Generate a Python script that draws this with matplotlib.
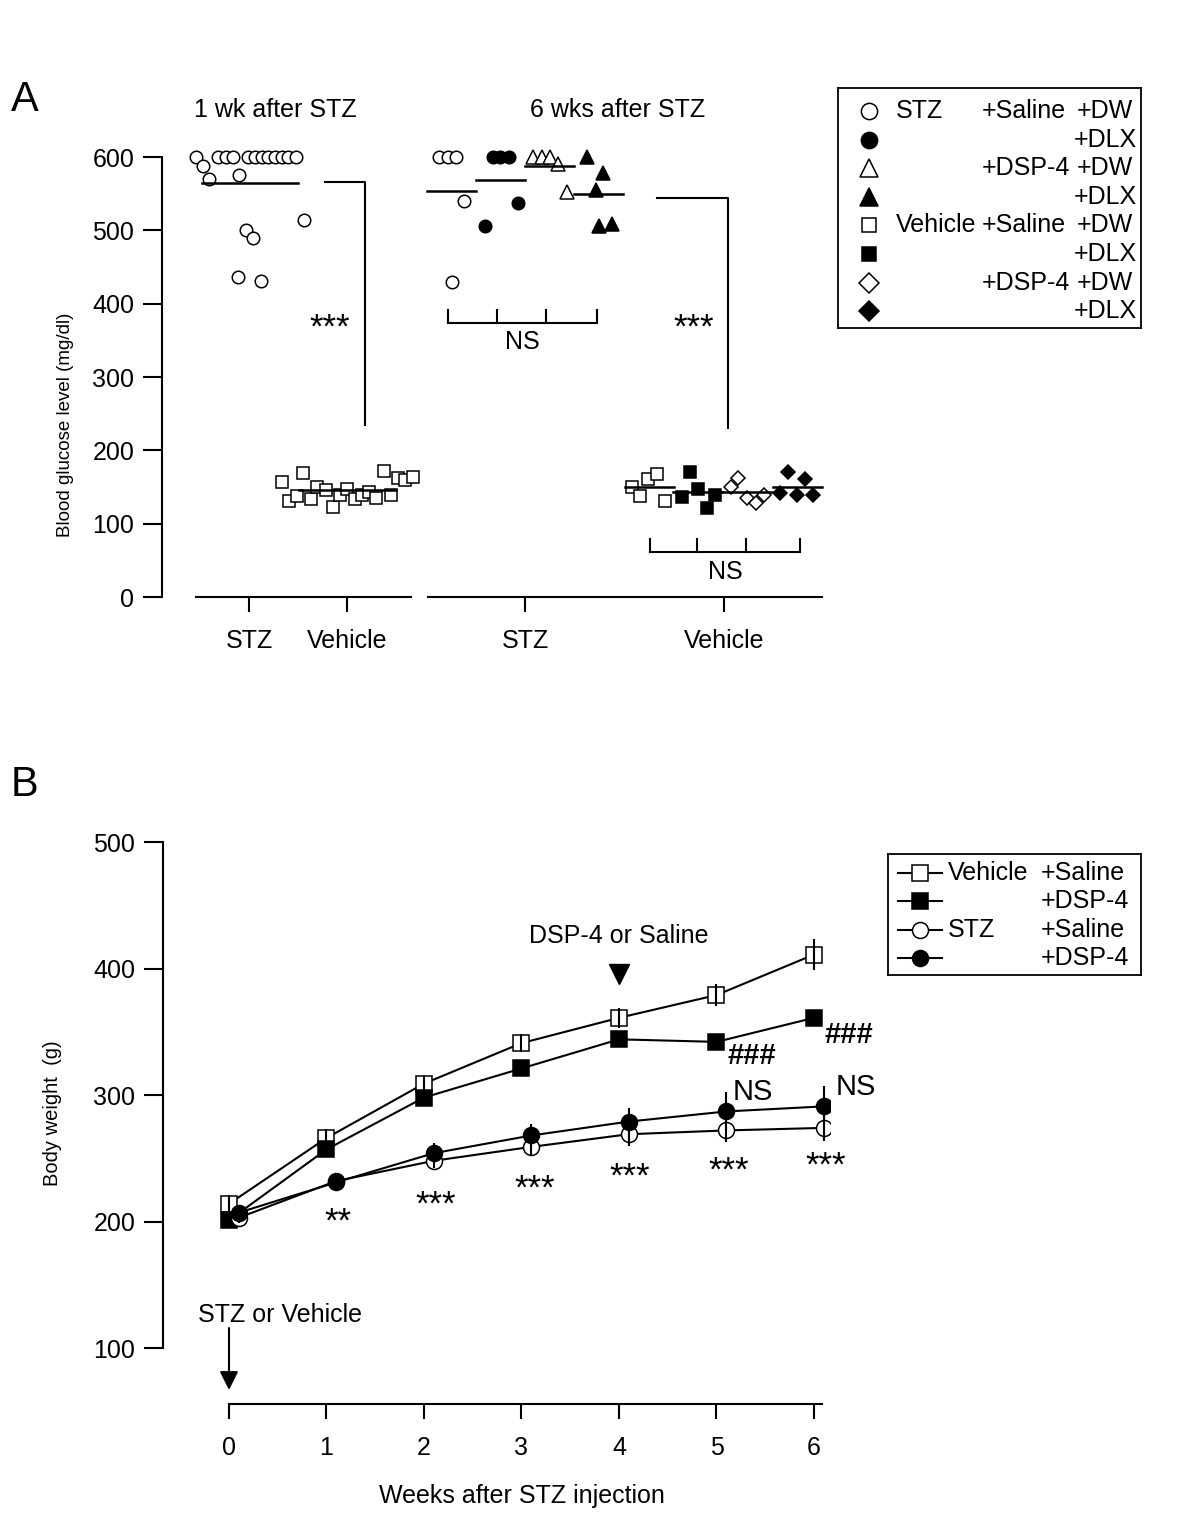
import matplotlib.pyplot as plt
import numpy as np

plt.rcParams['font.family'] = ['Liberation Sans', 'DejaVu Sans']
plt.rcParams['font.size'] = 18

# ---------------- panel A: blood glucose (mg/dl) ----------------
# 1 wk after STZ
stz_1wk = [600, 600, 600, 600, 600, 600, 600, 600, 600, 600, 600, 600,
           588, 570, 575, 500, 490, 514, 436, 431]
stz_1wk_jit = [-54, -32, -24, -17, -2, 5, 12, 18, 25, 32, 38, 46,
               -47, -41, -11, -4, 3, 54, -12, 11]
veh_1wk = [157, 169, 131, 138, 134, 150, 146, 123, 139, 147, 134, 139,
           143, 135, 172, 139, 162, 160, 164]
veh_1wk_jit = [-65, -44, -58, -50, -36, -30, -21, -14, -7, 0, 8, 15,
               22, 29, 37, 44, 51, 58, 66]

# 6 wks after STZ (4 subgroups each)
stz_sal_dw = [600, 600, 600, 540, 430]
stz_sal_dlx = [600, 600, 600, 537, 506]
stz_dsp_dw = [600, 600, 600, 590, 552]
stz_dsp_dlx = [600, 578, 555, 506, 508]
veh_sal_dw = [150, 138, 161, 168, 131]
veh_sal_dlx = [137, 170, 147, 121, 139]
veh_dsp_dw = [150, 162, 135, 128, 139]
veh_dsp_dlx = [142, 170, 139, 161, 139]

jit_stz = [[-13, -4, 4, 12, 0], [-8, -1, 8, 17, -16],
           [-17, -8, 0, 8, 17], [-12, 4, -3, 0, 13]]
jit_veh = [[-17, -9, -1, 8, 16], [-16, -8, 0, 9, 17],
           [-16, -9, 0, 9, 17], [-17, -9, 0, 8, 16]]

# ---------------- panel B: body weight (g) ----------------
weeks = [0, 1, 2, 3, 4, 5, 6]
bw_veh_sal = [214, 266, 309, 341, 361, 379, 411]
bw_veh_sal_err = [7, 7, 7, 7, 8, 9, 12]
bw_veh_dsp = [201, 257, 298, 321, 344, 342, 361]
bw_veh_dsp_err = [5, 5, 5, 5, 5, 5, 5]
bw_stz_sal = [203, 232, 248, 259, 269, 272, 274]
bw_stz_sal_err = [4, 4, 6, 7, 9, 9, 10]
bw_stz_dsp = [207, 231, 254, 268, 279, 287, 291]
bw_stz_dsp_err = [4, 4, 8, 9, 11, 15, 16]

fig = plt.figure(figsize=(12, 15.2), dpi=100)
W, H = 1200, 1520


def rect(x0, y0, x1, y1):
    return [x0 / W, 1 - y1 / H, (x1 - x0) / W, (y1 - y0) / H]


# ======================= panel A =======================
axA = fig.add_axes(rect(162, 80, 830, 660))
axA.set_xlim(162, 830)
axA.set_ylim(-85.9, 705.0)
for s in ['top', 'right']:
    axA.spines[s].set_visible(False)
axA.spines['left'].set_bounds(0, 600)
axA.spines['left'].set_linewidth(1.5)
axA.spines['bottom'].set_position(('data', 0))
axA.spines['bottom'].set_visible(False)
axA.set_yticks(range(0, 601, 100))
axA.tick_params(axis='y', direction='out', length=14, width=1.5, pad=6)
axA.set_xticks([249, 347, 525, 724])
axA.set_xticklabels(['STZ', 'Vehicle', 'STZ', 'Vehicle'])
axA.tick_params(axis='x', direction='out', length=11, width=1.5, pad=12)
axA.plot([196, 411], [0, 0], color='black', lw=1.5, clip_on=False)
axA.plot([428, 822], [0, 0], color='black', lw=1.5, clip_on=False)
axA.set_ylabel('Blood glucose level (mg/dl)', fontsize=13.5)
axA.yaxis.set_label_coords(-0.132, 0.405)

ms_A = {'o': 9, 's': 8, '^': 10, 'D': 7.6}


def dot_group(center, values, jit, marker, face, hw):
    xs = center + np.array(jit)
    axA.plot(xs, values, linestyle='none', marker=marker, ms=ms_A[marker],
             mfc=face, mec='black', mew=1.1, clip_on=False, zorder=3)
    m = np.mean(values)
    axA.plot([center - hw, center + hw], [m, m], color='black', lw=1.8, zorder=4)


dot_group(250, stz_1wk, stz_1wk_jit, 'o', 'white', 48)
dot_group(347, veh_1wk, veh_1wk_jit, 's', 'white', 48.5)

stz_groups = [stz_sal_dw, stz_sal_dlx, stz_dsp_dw, stz_dsp_dlx]
veh_groups = [veh_sal_dw, veh_sal_dlx, veh_dsp_dw, veh_dsp_dlx]
stz_centers = [451.5, 500.5, 549.5, 598.5]
veh_centers = [649, 697.5, 747, 797]
stz_style = [('o', 'white'), ('o', 'black'), ('^', 'white'), ('^', 'black')]
veh_style = [('s', 'white'), ('s', 'black'), ('D', 'white'), ('D', 'black')]
for c, v, j, (mk, fc) in zip(stz_centers, stz_groups, jit_stz, stz_style):
    dot_group(c, v, j, mk, fc, 24.5)
for c, v, j, (mk, fc) in zip(veh_centers, veh_groups, jit_veh, veh_style):
    dot_group(c, v, j, mk, fc, 24.5)

# significance brackets
axA.plot([325, 365, 365], [566, 566, 235], color='black', lw=1.5)
axA.plot([657, 728, 728], [544, 544, 230], color='black', lw=1.5)
axA.text(330, 354, '***', ha='center', va='baseline', fontsize=25)
axA.text(694, 354, '***', ha='center', va='baseline', fontsize=25)

# NS brackets
for ticks, ylo, yhi, ytxt in [([448, 497, 546, 597], 374, 391, 347.7),
                              ([650, 697, 746, 800], 61, 79, 34.1)]:
    axA.plot([ticks[0], ticks[-1]], [ylo, ylo], color='black', lw=1.5)
    for t in ticks:
        axA.plot([t, t], [ylo, yhi], color='black', lw=1.5)
    axA.text(np.mean([ticks[0], ticks[-1]]), ytxt, 'NS', ha='center', va='center')

axA.text(275, 664, '1 wk after STZ', ha='center', va='center')
axA.text(618, 664, '6 wks after STZ', ha='center', va='center')

# legend A
legA = fig.add_axes(rect(838, 88, 1141, 328))
legA.set_xlim(838, 1141)
legA.set_ylim(328, 88)
legA.set_xticks([])
legA.set_yticks([])
for s in legA.spines.values():
    s.set_linewidth(1.3)
rowsA = [('o', 'white', 'STZ', '+Saline', '+DW'),
         ('o', 'black', '', '', '+DLX'),
         ('^', 'white', '', '+DSP-4', '+DW'),
         ('^', 'black', '', '', '+DLX'),
         ('s', 'white', 'Vehicle', '+Saline', '+DW'),
         ('s', 'black', '', '', '+DLX'),
         ('D', 'white', '', '+DSP-4', '+DW'),
         ('D', 'black', '', '', '+DLX')]
for i, (mk, fc, t1, t2, t3) in enumerate(rowsA):
    y = 111 + i * 28.6
    legA.plot([869], [y], marker=mk, ms=ms_A[mk] * 1.3, mfc=fc, mec='black', mew=1.1)
    legA.text(896, y, t1, ha='left', va='center')
    legA.text(982, y, t2, ha='left', va='center')
    legA.text(1133 if t3 == '+DW' else 1137, y, t3, ha='right', va='center')

fig.text(25 / W, 1 - 100 / H, 'A', fontsize=30, ha='center', va='center')

# ======================= panel B =======================
axB = fig.add_axes(rect(163, 830, 830, 1410))
axB.set_xlim(-0.6769, 6.1641)
axB.set_ylim(50.99, 509.49)
for s in ['top', 'right']:
    axB.spines[s].set_visible(False)
axB.spines['left'].set_bounds(100, 500)
axB.spines['left'].set_linewidth(1.5)
axB.spines['bottom'].set_position(('data', 55.73))
axB.spines['bottom'].set_bounds(0, 6.08)
axB.spines['bottom'].set_linewidth(1.5)
axB.set_yticks([100, 200, 300, 400, 500])
axB.set_xticks(weeks)
axB.tick_params(axis='y', direction='out', length=14, width=1.5, pad=6)
axB.tick_params(axis='x', direction='out', length=11, width=1.5, pad=12)
axB.set_ylabel('Body weight  (g)', fontsize=14.5)
axB.yaxis.set_label_coords(-0.151, 0.512)
fig.text(522 / W, 1 - 1496 / H, 'Weeks after STZ injection', ha='center', va='center')

wk = np.array(weeks, dtype=float)
series = [(wk, bw_veh_sal, bw_veh_sal_err, 's', 'white'),
          (wk, bw_veh_dsp, bw_veh_dsp_err, 's', 'black'),
          (wk + 0.1, bw_stz_sal, bw_stz_sal_err, 'o', 'white'),
          (wk + 0.1, bw_stz_dsp, bw_stz_dsp_err, 'o', 'black')]
for x, y, e, mk, fc in series:
    axB.plot(x, y, color='black', lw=1.5, marker=mk, ms=11 if mk == 's' else 11.5,
             mfc=fc, mec='black', mew=1.1, zorder=3)
    axB.errorbar(x, y, yerr=e, fmt='none', ecolor='black', elinewidth=1.5,
                 capsize=0, zorder=4)

# annotations
stars = [(1.12, 191.7, '**'), (2.12, 205.1, '***'), (3.14, 217.8, '***'),
         (4.11, 227.3, '***'), (5.12, 232.0, '***'), (6.12, 236.0, '***')]
for x, y, t in stars:
    axB.text(x, y, t, ha='center', va='baseline', fontsize=25)
axB.text(5.11, 330.8, '###', ha='left', va='center', fontsize=21, fontweight='bold')
axB.text(6.11, 347.4, '###', ha='left', va='center', fontsize=21, fontweight='bold')
axB.text(5.17, 302.4, 'NS', ha='left', va='center', fontsize=21, clip_on=False)
axB.text(6.22, 306.3, 'NS', ha='left', va='center', fontsize=21, clip_on=False)

axB.text(4.0, 425.7, 'DSP-4 or Saline', ha='center', va='center')
axB.plot([4.0], [396], marker='v', ms=14, color='black')
axB.text(0.52, 125.7, 'STZ or Vehicle', ha='center', va='center')
axB.annotate('', xy=(0, 66.8), xytext=(0, 115.8),
             arrowprops=dict(arrowstyle='-|>', color='black', lw=1.5,
                             mutation_scale=28, shrinkA=0, shrinkB=0))

# legend B
legB = fig.add_axes(rect(888, 854, 1141, 975))
legB.set_xlim(888, 1141)
legB.set_ylim(975, 854)
legB.set_xticks([])
legB.set_yticks([])
for s in legB.spines.values():
    s.set_linewidth(1.3)
rowsB = [('s', 'white', 'Vehicle', '+Saline'),
         ('s', 'black', '', '+DSP-4'),
         ('o', 'white', 'STZ', '+Saline'),
         ('o', 'black', '', '+DSP-4')]
for i, (mk, fc, t1, t2) in enumerate(rowsB):
    y = 873 + i * 28.3
    legB.plot([898, 942], [y, y], color='black', lw=1.5)
    legB.plot([920], [y], marker=mk, ms=11.5, mfc=fc, mec='black', mew=1.1)
    legB.text(948, y, t1, ha='left', va='center')
    legB.text(1041, y, t2, ha='left', va='center')

fig.text(25 / W, 1 - 785 / H, 'B', fontsize=30, ha='center', va='center')

fig.savefig('out.png', dpi=100)
